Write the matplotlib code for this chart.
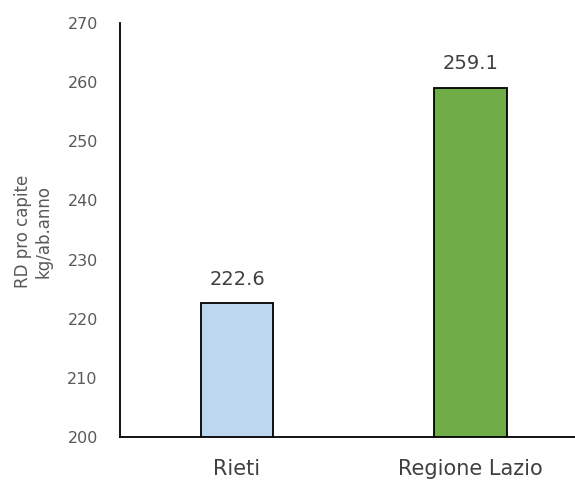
import matplotlib
matplotlib.use('Agg')
import matplotlib.pyplot as plt
import numpy as np

categories = ['Rieti', 'Regione Lazio']
values = [222.6, 259.1]
colors = ['#BDD7EE', '#70AD47']
y_ticks = [200, 210, 220, 230, 240, 250, 260, 270]

plt.rcParams['font.family'] = ['DejaVu Sans']

fig = plt.figure(figsize=(5.75, 4.82), dpi=100)
ax = fig.add_axes([0.2087, 0.0934, 0.7913, 0.8586])

x = np.arange(len(categories))
bars = ax.bar(x, values, width=0.313, color=colors, edgecolor='black', linewidth=1.3)

for xi, v in zip(x, values):
    ax.text(xi, v + 2.4, '{:.1f}'.format(v), ha='center', va='bottom',
            fontsize=14, color='#404040')

ax.set_xlim(-0.502, 1.45)
ax.set_ylim(200, 270)
ax.set_yticks(y_ticks)
ax.set_xticks(x)
ax.set_xticklabels(categories, fontsize=15, color='#404040')
ax.tick_params(axis='y', length=0, labelsize=11.5, labelcolor='#595959', pad=16)
ax.tick_params(axis='x', length=0, pad=16)

ax.spines['top'].set_visible(False)
ax.spines['right'].set_visible(False)
ax.spines['left'].set_linewidth(1.3)
ax.spines['bottom'].set_linewidth(1.3)

fig.text(0.058, 0.519, 'RD pro capite\nkg/ab.anno', rotation=90, ha='center', va='center',
         fontsize=12, color='#595959', linespacing=1.15)

fig.savefig('out.png', dpi=100)
